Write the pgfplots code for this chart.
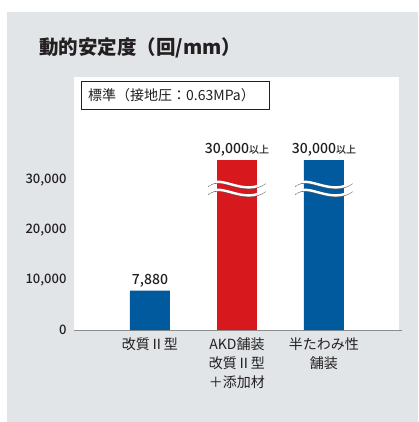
\documentclass[border=0pt]{standalone}
\usepackage{fontspec}
\setmainfont{Noto Sans CJK JP}
\newfontfamily\med{Noto Sans CJK JP Medium}
\usepackage{pgfplots}
\pgfplotsset{compat=1.18}
\definecolor{bgray}{HTML}{E1E5E8}
\definecolor{barblue}{HTML}{015A9E}
\definecolor{barred}{HTML}{D7191E}
\definecolor{txt}{HTML}{231F20}
\newcommand\ijo{{\fontsize{10}{10}\selectfont 以上}}
% break mark across a bar: centre x, level y
\newcommand\wave[2]{%
  \draw[black!65, line width=0.9pt, yshift=-1.4pt]
    (axis cs:#1-0.33,#2) .. controls (axis cs:#1-0.18,#2+2300) and (axis cs:#1+0.08,#2-2500) .. (axis cs:#1+0.33,#2+600);
  \draw[white, line width=2.4pt]
    (axis cs:#1-0.33,#2) .. controls (axis cs:#1-0.18,#2+2300) and (axis cs:#1+0.08,#2-2500) .. (axis cs:#1+0.33,#2+600);
}
\begin{document}
\begin{tikzpicture}[x=1pt,y=1pt]
\useasboundingbox (0,0) rectangle (418,-422);
\fill[bgray] (7,-12) rectangle (418,-422);
\fill[white] (74,-77) rectangle (399,-330);
\node[anchor=west, text=txt, font=\fontsize{19.5}{20}\selectfont\bfseries, inner sep=0] at (39,-48) {動的安定度（回/mm）};
\draw[txt, line width=0.6pt] (81,-81) rectangle (269,-109);
\node[anchor=west, text=txt, font=\fontsize{14}{14}\selectfont, inner sep=0] at (88,-95) {標準（接地圧：0.63MPa）};
\begin{axis}[
  at={(74pt,-330pt)}, anchor=south west,
  scale only axis, width=328pt, height=170pt,
  xmin=-0.8736, xmax=2.897, ymin=0, ymax=34000,
  axis x line*=bottom, axis y line*=left,
  y axis line style={draw=none},
  x axis line style={draw=black!45, line width=1pt},
  tick style={draw=none}, major tick length=0pt,
  ytick={0,10000,20000,30000},
  scaled y ticks=false,
  yticklabel style={/pgf/number format/1000 sep={,}, /pgf/number format/assume math mode=true,
    font=\med\fontsize{13}{13}\selectfont, text=txt, xshift=-4pt},
  xtick={0,1,2},
  xticklabels={改質Ⅱ型, {AKD舗装\\改質Ⅱ型\\＋添加材}, {半たわみ性\\舗装}},
  xticklabel style={align=center, font=\fontsize{14}{19}\selectfont, text=txt, anchor=north, yshift=-4pt},
  ybar, bar width=40pt, bar shift=0pt, clip=false,
  nodes near coords, point meta=explicit symbolic,
  every node near coord/.append style={font=\med\fontsize{14}{14}\selectfont, text=txt},
]
\addplot[fill=barblue, draw=none] coordinates {(0,7880) [7,880] (2,34000) [30,000\ijo]};
\addplot[fill=barred, draw=none] coordinates {(1,34000) [30,000\ijo]};
\wave{1}{29000}
\wave{1}{27400}
\wave{2}{29000}
\wave{2}{27400}
\end{axis}
\end{tikzpicture}
\end{document}
